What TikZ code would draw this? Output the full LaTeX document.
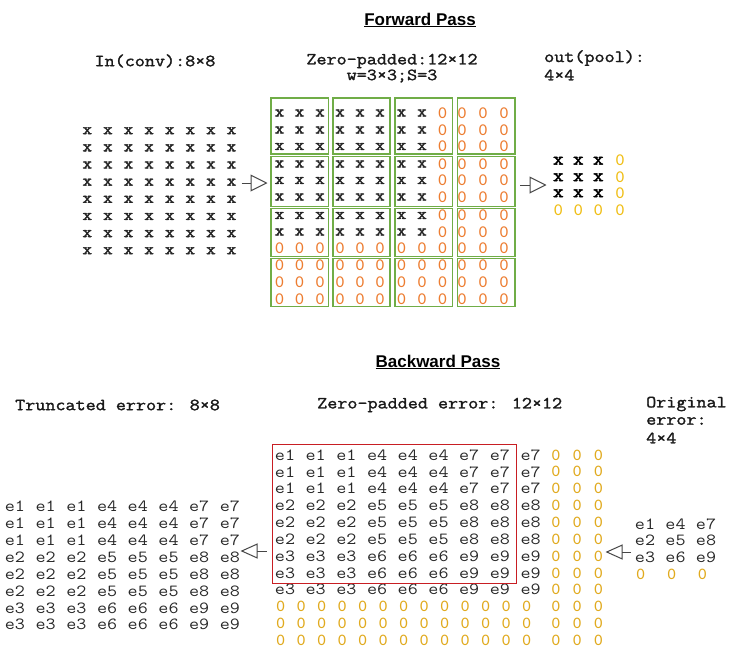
\documentclass[tikz,border=0pt]{standalone}
\usepackage{fontspec}
\setmainfont{Liberation Sans}
\newfontfamily\cour{Latin Modern Mono}[FakeStretch=1.15]
\newfontfamily\courlab{Latin Modern Mono}[FakeStretch=1.15, FakeBold=1.6]
\newfontfamily\courx{Latin Modern Mono}[FakeStretch=1.15, FakeBold=2.6]
\newfontfamily\zerofont{Carlito}
\usetikzlibrary{arrows.meta}
\definecolor{gridgreen}{RGB}{112,173,71}
\definecolor{zeroorange}{RGB}{237,125,49}
\definecolor{zerogold}{RGB}{225,170,30}
\definecolor{poolgold}{RGB}{240,190,20}
\definecolor{boxred}{RGB}{200,30,35}
\definecolor{arrowgray}{RGB}{70,70,70}
\definecolor{etext}{RGB}{40,40,40}
\begin{document}
\begin{tikzpicture}[x=1pt,y=-1pt,
  titlestyle/.style={font=\fontsize{17}{17}\selectfont\bfseries, inner sep=0pt},
  lab/.style={font=\courlab\fontsize{17}{17}\selectfont, inner sep=0pt, text=black!90},
  xin/.style={font=\courx\fontsize{16}{16}\selectfont, text=black!85, inner sep=0pt},
  xout/.style={font=\courx\fontsize{18}{18}\selectfont, text=black, inner sep=0pt},
  zf/.style={font=\zerofont\fontsize{16.5}{16.5}\selectfont, text=zeroorange, inner sep=0pt},
  zb/.style={font=\zerofont\fontsize{16}{16}\selectfont, text=zerogold, inner sep=0pt},
  zp/.style={font=\zerofont\fontsize{16.5}{16.5}\selectfont, text=poolgold, inner sep=0pt},
  ee/.style={font=\cour\fontsize{17}{17}\selectfont, text=etext, inner sep=0pt},
  blk/.style={draw=gridgreen, line width=1.3pt},
  conn/.style={draw=arrowgray, line width=1pt, -{Triangle[open, length=17pt, width=17pt, line width=1pt]}},
  connb/.style={draw=arrowgray, line width=1pt, -{Triangle[open, length=17pt, width=15pt, line width=1pt]}}
]
\useasboundingbox[fill=white] (0,0) rectangle (729,648);

% ---------------- Forward pass ----------------
\node[titlestyle] (fwd) at (420,20) {\underline{Forward Pass}};
\node[lab] (inlab) at (155,61) {In(conv):8×8};
\node[lab] (zplab) at (392,61) {Zero-padded:12×12};
\node[lab] (wlab) at (392,76) {w=3×3;S=3};
\node[lab, anchor=west] (outlab) at (544,58) {out(pool):};
\node[lab, anchor=west] (outlabb) at (544,75) {4×4};

% input 8x8
\foreach \r in {0,...,7}
  \foreach \c in {0,...,7}
    \node[xin] (in-\r-\c) at ({87.3+20.6*\c},{130.7+17.15*\r}) {x};

% padded blocks
\foreach \xa/\xb [count=\i] in {271/328.5,333/390,395/452.5,457.5/515}
  \foreach \ya/\yb [count=\j] in {98/154,156.5/206.5,208.5/256.5,258.5/306.5}
    \draw[blk] (\xa,\ya) rectangle (\xb,\yb);

% padded 12x12
\foreach \y [count=\r] in {113,130,146.5,164,180.5,197,215.5,232,248.5,265.5,282.5,299}
  \foreach \x [count=\c] in {279.5,299.5,320,340,360,380,401.5,422,442.5,462,483,504} {
    \pgfmathtruncatemacro\isx{(\r<9)&&(\c<9)}
    \ifnum\isx=1
      \node[xin] (pd-\r-\c) at (\x,\y) {x};
    \else
      \node[zf] (pd-\r-\c) at (\x,\y) {0};
    \fi
  }

% pooled output 4x4
\foreach \y [count=\r] in {160.7,177.3,193.3,210.7}
  \foreach \x [count=\c] in {558.3,578.3,598.3,620} {
    \pgfmathtruncatemacro\isx{(\r<4)&&(\c<4)}
    \ifnum\isx=1
      \node[xout] (po-\r-\c) at (\x,\y) {x};
    \else
      \node[zp] (po-\r-\c) at (\x,\y) {0};
    \fi
  }

\coordinate (a1s) at (241.5,183);
\coordinate (a1e) at (267.5,183);
\draw[conn] (a1s) -- (a1e);
\coordinate (a2s) at (520,185);
\coordinate (a2e) at (546.5,185);
\draw[conn] (a2s) -- (a2e);

% ---------------- Backward pass ----------------
\node[titlestyle] (bwd) at (438,362) {\underline{Backward Pass}};
\node[lab, anchor=west] (trlab) at (15,405) {Truncated error: 8×8};
\node[lab, anchor=west] (zelab) at (317,405) {Zero-padded error: 12×12};
\node[lab, anchor=west] (orlab) at (646,404) {Original};
\node[lab, anchor=west] (orlabb) at (646,421) {error:};
\node[lab, anchor=west] (orlabc) at (646,438) {4×4};

% truncated 8x8
\foreach \r in {0,...,7}
  \foreach \c in {0,...,7} {
    \pgfmathtruncatemacro\k{3*floor(\c/3)+floor(\r/3)+1}
    \node[ee] (tr-\r-\c) at ({15+30.7*\c},{506.5+16.9*\r}) {e\k};
  }

% zero-padded error 12x12
\foreach \r in {0,...,8}
  \foreach \c in {0,...,8} {
    \pgfmathtruncatemacro\k{3*floor(\c/3)+floor(\r/3)+1}
    \node[ee] (ze-\r-\c) at ({285+30.7*\c},{455+16.85*\r}) {e\k};
  }
\foreach \r in {0,...,11}
  \foreach \x [count=\c] in {556,577.3,598.3}
    \node[zb] (zz-\r-\c) at (\x,{455+16.85*\r}) {0};
\foreach \r in {9,10,11}
  \foreach \i in {0,...,12}
    \node[zb] (zr-\r-\i) at ({280.7+20.5*\i},{455+16.85*\r}) {0};

\draw[boxred, line width=1pt] (272.3,444.3) rectangle (516,583.3);

% original error
\foreach \r in {0,1,2}
  \foreach \c in {0,1,2} {
    \pgfmathtruncatemacro\k{3*\c+\r+1}
    \node[ee] (or-\r-\c) at ({645+30.5*\c},{524+16.7*\r}) {e\k};
  }
\foreach \x [count=\c] in {640.7,671.7,702.5}
  \node[zb] (oz-\c) at (\x,574) {0};

\coordinate (b1s) at (266.5,551);
\coordinate (b1e) at (240.5,551);
\draw[connb] (b1s) -- (b1e);
\coordinate (b2s) at (631,552);
\coordinate (b2e) at (605.5,552);
\draw[connb] (b2s) -- (b2e);
\end{tikzpicture}
\end{document}
